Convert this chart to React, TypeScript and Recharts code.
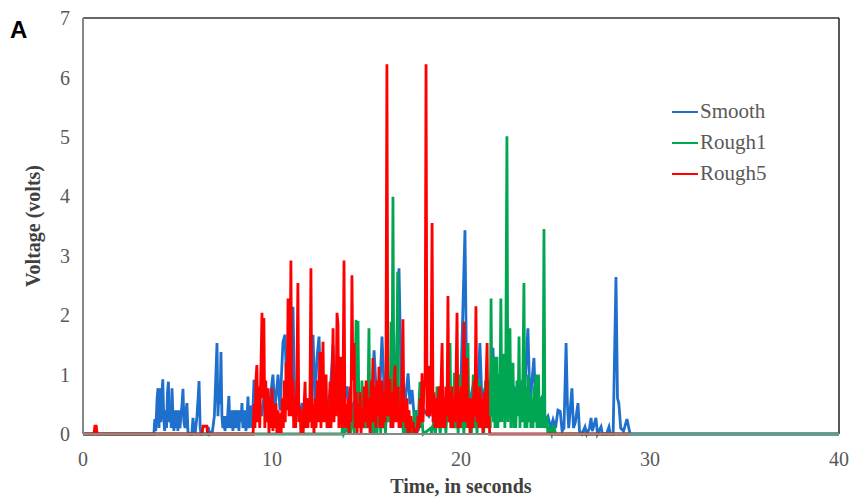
import React from "react";
import { LineChart, Line, XAxis, YAxis, ReferenceLine } from "recharts";

// [time (s), voltage (V)]
const smoothPoints: [number, number][] = [
  [0, 0], [3.75, 0], [3.8, 0.25], [3.85, 0.05], [3.92, 0.6], [3.97, 0.77], [4.02, 0.1], [4.07, 0.77],
  [4.12, 0.2], [4.17, 0.6], [4.22, 0.92], [4.27, 0.3], [4.32, 0.05], [4.37, 0.4], [4.42, 0.1], [4.47, 0.7],
  [4.52, 0.88], [4.57, 0.2], [4.62, 0.5], [4.67, 0.1], [4.71, 0.77], [4.76, 0.3], [4.81, 0.05], [4.87, 0.4],
  [4.92, 0.1], [4.97, 0.4], [5.02, 0.05], [5.08, 0.4], [5.13, 0.1], [5.18, 0.3], [5.24, 0.5], [5.29, 0.76],
  [5.34, 0.2], [5.4, 0.1], [5.45, 0.4], [5.5, 0.52], [5.55, 0.05], [5.6, 0], [5.76, 0], [5.82, 0.27],
  [5.87, 0.05], [5.93, 0], [6.03, 0.3], [6.09, 0.6], [6.14, 0.89], [6.2, 0.1], [6.25, 0], [6.55, 0],
  [6.62, 0.12], [6.7, 0], [6.85, 0.05], [6.95, 0.3], [7.02, 0.9], [7.09, 1.53], [7.14, 0.3], [7.2, 0.8],
  [7.25, 0.5], [7.3, 1.38], [7.35, 0.3], [7.4, 0.1], [7.46, 0.3], [7.51, 0.05], [7.57, 0.3], [7.62, 0.1],
  [7.67, 0.4], [7.72, 0.64], [7.77, 0.1], [7.83, 0.3], [7.88, 0.4], [7.93, 0.05], [7.98, 0.3], [8.04, 0.4],
  [8.09, 0.1], [8.14, 0.3], [8.2, 0.4], [8.25, 0.05], [8.3, 0.4], [8.36, 0.2], [8.41, 0.52], [8.46, 0.1],
  [8.52, 0.3], [8.57, 0.4], [8.62, 0.05], [8.68, 0.3], [8.73, 0.63], [8.78, 0.1], [8.84, 0.3], [8.89, 0.48],
  [8.94, 0.1], [9.0, 0.5], [9.05, 0.91], [9.15, 0.3], [9.3, 0.6],
  [9.45, 0.3], [9.6, 0.7], [9.75, 0.3], [9.9, 0.6], [10.05, 1.0], [10.15, 0.4], [10.32, 1.0], [10.42, 0.4],
  [10.58, 1.55], [10.69, 1.67], [10.8, 0.5], [10.95, 0.8], [11.11, 2.14], [11.2, 0.5], [11.35, 0.7], [11.45, 0.3],
  [11.59, 0.52], [11.7, 0.3], [11.9, 0.6], [12.0, 0.3], [12.17, 1.67], [12.27, 0.5], [12.38, 1.28], [12.49, 1.64],
  [12.6, 0.4], [12.8, 0.7], [12.95, 0.4], [13.1, 0.8], [13.23, 1.5], [13.35, 0.4], [13.55, 0.6], [13.7, 0.3],
  [13.97, 0.8], [14.1, 0.3], [14.3, 0.5], [14.5, 0.3], [14.7, 0.6], [14.9, 0.3], [15.1, 0.7], [15.25, 0.4],
  [15.4, 1.41], [15.55, 0.5], [15.7, 0.7], [15.82, 1.64], [15.95, 0.6], [16.15, 0.8], [16.35, 0.4], [16.55, 0.9],
  [16.72, 2.79], [16.85, 0.6], [17.0, 0.4], [17.2, 1.02], [17.3, 0.5], [17.41, 0.74], [17.52, 0.3], [17.62, 0.4],
  [17.72, 0.05], [17.85, 0.2], [18.05, 0.4], [18.3, 0.3], [18.55, 0.5], [18.8, 0.4], [19.05, 0.6], [19.3, 0.5],
  [19.55, 0.7], [19.8, 0.5], [20.0, 0.9], [20.21, 3.43], [20.3, 0.8], [20.5, 0.6], [20.7, 0.9], [20.85, 0.5],
  [21.0, 1.53], [21.1, 0.6], [21.3, 0.8], [21.45, 0.4], [21.69, 1.45], [21.8, 0.5], [22.0, 0.9], [22.2, 0.6],
  [22.4, 1.0], [22.6, 0.5], [22.8, 0.8], [23.02, 0.52], [23.2, 0.3], [23.35, 0.6], [23.54, 1.78], [23.65, 0.5],
  [23.86, 1.28], [23.95, 0.4], [24.1, 0.5], [24.29, 0.62], [24.4, 0.2], [24.6, 0.3], [24.75, 0.1], [24.87, 0.24],
  [25.0, 0.1], [25.13, 0.4], [25.25, 0.38], [25.35, 0.05], [25.45, 0.1], [25.56, 1.53], [25.63, 0.5], [25.7, 0.1],
  [25.87, 0.77], [25.95, 0.1], [26.05, 0.2], [26.19, 0.52], [26.27, 0.05], [26.4, 0], [26.56, 0.12], [26.65, 0],
  [26.8, 0.1], [26.88, 0.27], [26.95, 0.05], [27.14, 0.27], [27.22, 0], [27.41, 0.12], [27.48, 0], [27.7, 0],
  [27.83, 0.12], [27.9, 0], [28.05, 0], [28.2, 2.64], [28.28, 0.6], [28.35, 0.52], [28.45, 0.1], [28.6, 0.05],
  [28.78, 0.25], [28.88, 0.1], [28.95, 0], [40, 0],
];

const rough1Points: [number, number][] = [
  [0, 0], [13.7, 0], [13.75, 0.3], [13.8, 0], [13.97, 0.1], [14.05, 0], [14.1, 0.5], [14.15, 0],
  [14.3, 0.4], [14.35, 0], [14.4, 1.0], [14.45, 1.92], [14.5, 0.3], [14.55, 1.9], [14.6, 0.2], [14.65, 0.5],
  [14.7, 0.1], [14.76, 0.9], [14.81, 0.1], [14.86, 0.4], [14.92, 0.1], [14.97, 0.8], [15.02, 0.1], [15.07, 0.3],
  [15.13, 1.78], [15.18, 0.2], [15.23, 0.6], [15.28, 0], [15.34, 0.3], [15.4, 0], [15.5, 0.5], [15.55, 0],
  [15.6, 0.2], [15.7, 0.5], [15.75, 0], [15.8, 0.5], [15.85, 0.1], [15.95, 0.3], [16.0, 0], [16.1, 0.6],
  [16.15, 0.2], [16.2, 1.0], [16.25, 0.3], [16.3, 1.89], [16.35, 0.5], [16.4, 3.99], [16.45, 0.4], [16.5, 1.2],
  [16.55, 0.3], [16.6, 1.0], [16.65, 2.73], [16.7, 0.3], [16.75, 0.8], [16.8, 0.1], [16.9, 0.4], [16.95, 0],
  [17.05, 0.2], [17.1, 0], [17.2, 0.4], [17.25, 0], [17.4, 0.1], [17.45, 0], [17.55, 0.4], [17.6, 0],
  [17.65, 0.1], [17.75, 0.3], [17.83, 0.88], [17.88, 0.1], [17.95, 0.2], [18.0, 0], [18.4, 0.1], [18.45, 0],
  [18.6, 0.3], [18.65, 0], [18.73, 0.8], [18.78, 0.1], [18.85, 0.2], [18.9, 0], [19.0, 0.5], [19.05, 0.1],
  [19.15, 0.3], [19.2, 0], [19.3, 0.7], [19.37, 0.2], [19.42, 1.53], [19.47, 0.1], [19.55, 0.4], [19.6, 0.1],
  [19.65, 1.03], [19.7, 0.1], [19.8, 0.3], [19.85, 0], [19.95, 1.0], [20.0, 0.1], [20.1, 0.4], [20.15, 0],
  [20.25, 0.8], [20.3, 0.1], [20.37, 1.53], [20.42, 0.2], [20.5, 0.5], [20.55, 0], [20.65, 1.0], [20.7, 0.1],
  [20.8, 0.4], [20.85, 0], [20.92, 0.9], [21.0, 0.8], [21.05, 0.1], [21.15, 0.3], [21.2, 0], [21.3, 0.9],
  [21.35, 0.1], [21.45, 0.4], [21.5, 0.9], [21.55, 0.1], [21.59, 2.28], [21.64, 0.3], [21.68, 1.1], [21.72, 0.2],
  [21.75, 1.3], [21.8, 0.1], [21.85, 0.9], [21.9, 1.3], [21.95, 0.1], [22.0, 1.0], [22.05, 0.2], [22.11, 2.28],
  [22.16, 0.2], [22.2, 1.1], [22.27, 1.35], [22.32, 0.1], [22.37, 1.2], [22.43, 5.01], [22.48, 0.2], [22.53, 1.2],
  [22.59, 1.78], [22.64, 0.1], [22.7, 1.0], [22.75, 1.2], [22.8, 0.1], [22.85, 0.7], [22.9, 0.1], [22.96, 0.9],
  [23.02, 0.3], [23.07, 1.64], [23.12, 0.1], [23.18, 0.9], [23.23, 0.2], [23.28, 1.1], [23.33, 2.54], [23.38, 0.1],
  [23.44, 0.8], [23.49, 0.1], [23.55, 1.0], [23.6, 0.2], [23.65, 0.7], [23.7, 0.1], [23.76, 0.6], [23.81, 0.1],
  [23.86, 0.8], [23.92, 0.2], [23.97, 1.0], [24.02, 0.1], [24.07, 0.6], [24.1, 1.0], [24.15, 0.1], [24.2, 0.62],
  [24.25, 0.1], [24.3, 0.5], [24.34, 0.1], [24.39, 3.45], [24.44, 0.1], [24.5, 0.3], [24.55, 0.25], [24.6, 0],
  [24.7, 0.1], [24.8, 0], [24.9, 0.15], [25.0, 0], [40, 0],
];

const rough5Points: [number, number][] = [
  [0, 0], [0.58, 0], [0.63, 0.13], [0.7, 0.13], [0.75, 0], [6.3, 0], [6.35, 0.13], [6.55, 0.13],
  [6.6, 0], [9.0, 0], [9.05, 0.5], [9.1, 0.1], [9.15, 0.9], [9.2, 1.16], [9.25, 0.2], [9.3, 0.8],
  [9.35, 0.1], [9.42, 1.2], [9.47, 2.04], [9.52, 0.6], [9.57, 1.95], [9.62, 0.1], [9.67, 0.9], [9.72, 0.2],
  [9.79, 0.77], [9.84, 0], [9.9, 0.6], [9.95, 0.1], [10.0, 0.77], [10.05, 0.05], [10.1, 0.5], [10.15, 0.1],
  [10.21, 0.52], [10.26, 0], [10.32, 0.4], [10.37, 0], [10.42, 0.35], [10.48, 0], [10.55, 0.6], [10.6, 0.1],
  [10.65, 0.9], [10.7, 0.2], [10.75, 1.2], [10.8, 0.4], [10.85, 2.28], [10.9, 0.3], [10.95, 1.0], [11.0, 2.92],
  [11.05, 0.3], [11.1, 0.9], [11.15, 0.1], [11.2, 0.6], [11.25, 0.1], [11.32, 1.0], [11.37, 2.54], [11.42, 0.2],
  [11.48, 0.45], [11.53, 0], [11.6, 0.4], [11.65, 0], [11.7, 0.5], [11.75, 0.88], [11.8, 0.1], [11.85, 0.6],
  [11.9, 0.1], [11.95, 0.5], [12.0, 0.2], [12.06, 2.79], [12.11, 0.1], [12.17, 0.5], [12.22, 0], [12.28, 0.6],
  [12.33, 0.1], [12.4, 0.9], [12.45, 0.2], [12.54, 1.38], [12.59, 0.1], [12.65, 0.8], [12.7, 1.55], [12.75, 0.2],
  [12.8, 0.6], [12.86, 1.0], [12.91, 0.1], [12.96, 0.5], [13.02, 0.1], [13.07, 0.88], [13.12, 0.1], [13.17, 0.7],
  [13.23, 1.78], [13.28, 0.2], [13.33, 0.9], [13.38, 0.3], [13.44, 2.04], [13.49, 1.85], [13.54, 0.1], [13.6, 0.7],
  [13.65, 1.3], [13.7, 0.1], [13.76, 0.8], [13.81, 2.92], [13.86, 0.1], [13.92, 0.5], [13.97, 0.1], [14.03, 0.6],
  [14.08, 0], [14.13, 0.8], [14.18, 0.2], [14.23, 2.67], [14.28, 0.9], [14.34, 1.53], [14.39, 0.1], [14.45, 0.7],
  [14.5, 0], [14.55, 0.5], [14.6, 0.1], [14.66, 0.7], [14.71, 0], [14.77, 0.4], [14.82, 0.1], [14.88, 0.8],
  [14.93, 0.2], [14.98, 0.9], [15.03, 0.7], [15.08, 0.1], [15.14, 0.6], [15.19, 0], [15.25, 0.9], [15.3, 0.2],
  [15.34, 1.28], [15.4, 0.2], [15.45, 0.8], [15.5, 0.1], [15.56, 0.9], [15.61, 0.3], [15.66, 1.13], [15.71, 0.1],
  [15.77, 0.6], [15.82, 0.9], [15.87, 0.1], [15.93, 0.7], [15.98, 0.2], [16.03, 1.0], [16.08, 6.22], [16.13, 0.3],
  [16.18, 0.9], [16.24, 0.9], [16.29, 0.1], [16.35, 0.7], [16.4, 0.1], [16.46, 0.8], [16.51, 1.15], [16.56, 0.2],
  [16.62, 0.6], [16.67, 0.8], [16.72, 0.1], [16.77, 0.5], [16.82, 0.1], [16.88, 1.0], [16.93, 1.93], [16.98, 0.2],
  [17.04, 0.5], [17.09, 0.1], [17.14, 0.6], [17.19, 0], [17.25, 0.4], [17.3, 0], [17.36, 0.3], [17.41, 0.1],
  [17.47, 0.2], [17.52, 0], [17.6, 0.1], [17.67, 0], [17.73, 0.3], [17.78, 0.1], [17.84, 0.6], [17.89, 0.2],
  [17.94, 1.02], [17.99, 0.2], [18.05, 0.9], [18.1, 0.8], [18.15, 6.22], [18.2, 0.3], [18.26, 0.9], [18.31, 1.15],
  [18.36, 0.3], [18.42, 1.0], [18.47, 3.55], [18.52, 0.2], [18.57, 0.7], [18.62, 0.1], [18.68, 0.6], [18.73, 0.1],
  [18.78, 0.5], [18.84, 0.8], [18.89, 0.1], [18.95, 0.9], [19.0, 1.53], [19.05, 0.1], [19.1, 0.6], [19.15, 0.1],
  [19.2, 0.8], [19.26, 0.3], [19.31, 2.32], [19.36, 0.2], [19.42, 0.7], [19.47, 0.1], [19.52, 0.8], [19.57, 0.1],
  [19.63, 0.6], [19.68, 0.2], [19.74, 1.0], [19.79, 2.04], [19.84, 0.1], [19.9, 0.7], [19.95, 0.1], [20.0, 0.8],
  [20.05, 0.2], [20.11, 1.0], [20.16, 1.89], [20.21, 0.2], [20.27, 0.9], [20.32, 1.28], [20.37, 0.1], [20.42, 0.6],
  [20.48, 0], [20.53, 0.5], [20.58, 0.6], [20.63, 0.1], [20.69, 0.9], [20.74, 0.3], [20.79, 2.15], [20.84, 0.2],
  [20.9, 0.7], [20.95, 0.1], [21.0, 0.8], [21.05, 0.1], [21.11, 0.6], [21.16, 0], [21.22, 0.7], [21.27, 0.1],
  [21.33, 0.9], [21.38, 1.53], [21.43, 0.1], [21.48, 0.3], [21.52, 0], [28.9, 0],
];

const timeTicks = [0, 10, 20, 30, 40];
const voltTicks = [0, 1, 2, 3, 4, 5, 6, 7];

const seriesNames = ["Smooth", "Rough1", "Rough5"];
const seriesColors = ["#1f6fcc", "#00a651", "#ff0000"];
const seriesPoints = [smoothPoints, rough1Points, rough5Points];

const toRows = (pts: [number, number][]) => pts.map(([t, v]) => ({ t, v }));

const serif = "'Liberation Serif', 'Times New Roman', serif";
const tickStyle = { fill: "#595959", fontSize: 20, fontFamily: serif };

export default function App() {
  return (
    <div style={{ position: "absolute", left: 0, top: 0, width: 854, height: 497, background: "#fff" }}>
      <div
        style={{
          position: "absolute", left: 10, top: 16, fontFamily: "'Liberation Sans', Arial, sans-serif",
          fontWeight: "bold", fontSize: 24, color: "#000",
        }}
      >
        A
      </div>
      <LineChart width={854} height={497} margin={{ top: 18, right: 15, left: 0, bottom: 0 }}>
        <XAxis
          type="number"
          dataKey="t"
          domain={[0, 40]}
          ticks={timeTicks}
          height={63}
          tickLine={false}
          tickSize={0}
          tickMargin={18}
          axisLine={{ stroke: "#888", strokeWidth: 2 }}
          tick={tickStyle}
          allowDuplicatedCategory={false}
          label={{
            value: "Time, in seconds", position: "insideBottom", offset: 4,
            style: { fill: "#404040", fontSize: 20, fontWeight: "bold", fontFamily: serif },
          }}
        />
        <YAxis
          type="number"
          domain={[0, 7]}
          ticks={voltTicks}
          width={83}
          tickLine={false}
          tickSize={0}
          tickMargin={13}
          axisLine={{ stroke: "#888", strokeWidth: 2 }}
          tick={tickStyle}
          label={{
            value: "Voltage (volts)", angle: -90, position: "insideLeft", offset: 33,
            style: { fill: "#404040", fontSize: 20, fontWeight: "bold", fontFamily: serif, textAnchor: "middle" },
          }}
        />
        <ReferenceLine y={7} stroke="#333" strokeWidth={1.5} />
        <ReferenceLine x={40} stroke="#222" strokeWidth={1.5} />
        {seriesNames.map((name, i) => (
          <Line key={name} data={toRows(seriesPoints[i])} dataKey="v" name={name} type="linear"
            stroke={seriesColors[i]} strokeWidth={2.8} dot={false} isAnimationActive={false} />
        ))}
      </LineChart>
      <div
        style={{
          position: "absolute", left: 672, top: 96, fontFamily: serif, fontSize: 21,
          color: "#595959", lineHeight: "31px",
        }}
      >
        {seriesNames.map((name, i) => (
          <div key={name} style={{ display: "flex", alignItems: "center" }}>
            <span style={{ display: "inline-block", width: 26, height: 2, background: seriesColors[i], marginRight: 2 }} />
            {name}
          </div>
        ))}
      </div>
    </div>
  );
}
